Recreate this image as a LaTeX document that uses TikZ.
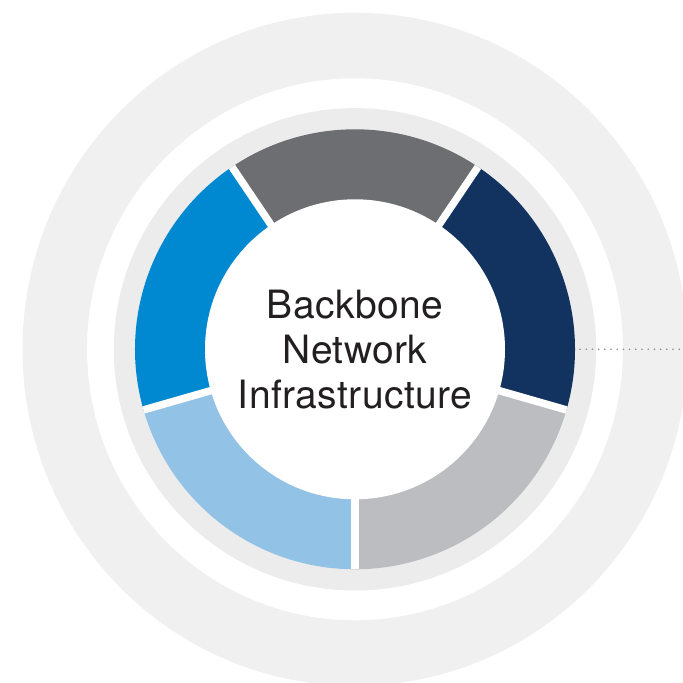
\documentclass[tikz,border=0pt]{standalone}
\usepackage{fontspec}
\setmainfont{TeX Gyre Heros}[LetterSpace=1]
\definecolor{ringgray}{HTML}{F0F0F0}
\definecolor{discgray}{HTML}{ECECEC}
\definecolor{segtop}{HTML}{6D6E71}
\definecolor{segright}{HTML}{12325F}
\definecolor{seglowright}{HTML}{BCBDC0}
\definecolor{seglowleft}{HTML}{93C2E7}
\definecolor{segleft}{HTML}{0089D1}
\definecolor{textdark}{HTML}{231F20}
\definecolor{dotgray}{HTML}{8C8C8C}
\tikzset{
  gapline/.style={draw=white, line width=7.5pt, line cap=butt},
  dotline/.style={draw=dotgray, line width=1.8pt, line cap=round, dash pattern=on 0pt off 6.2pt},
  hub/.style={circle, fill=white, minimum size=300pt, inner sep=0pt, align=center,
    text=textdark, font=\fontsize{39}{45}\selectfont}
}
\begin{document}
\begin{tikzpicture}[x=1pt,y=1pt]
\clip (0,0) rectangle (683,683);
\coordinate (C) at (355,333.7);
% outer ring
\fill[ringgray, even odd rule] (C) ellipse[x radius=332.5, y radius=336.5]
  (C) ellipse[x radius=268, y radius=271];
% disc
\fill[discgray] (C) circle[radius=241.2];
% segments
\fill[seglowright] (C) -- ++(270:220) arc[start angle=270, end angle=344, radius=220] -- cycle;
\fill[segright] (C) -- ++(344:220) arc[start angle=344, end angle=416, radius=220] -- cycle;
\fill[segtop] (C) -- ++(56:220) arc[start angle=56, end angle=124, radius=220] -- cycle;
\fill[segleft] (C) -- ++(124:220) arc[start angle=124, end angle=196, radius=220] -- cycle;
\fill[seglowleft] (C) -- ++(196:220) arc[start angle=196, end angle=270, radius=220] -- cycle;
% gaps
\foreach \a in {270,344,56,124,196}
  \draw[gapline] (C) ++(\a:140) -- ++(\a:80);
% hub
\node[hub] (hub) at (C) {Backbone\\Network\\Infrastructure};
% dotted connector
\coordinate (dotstart) at (580,333.7);
\coordinate (dotend) at (684,333.7);
\draw[dotline] (dotstart) -- (dotend);
\end{tikzpicture}
\end{document}
